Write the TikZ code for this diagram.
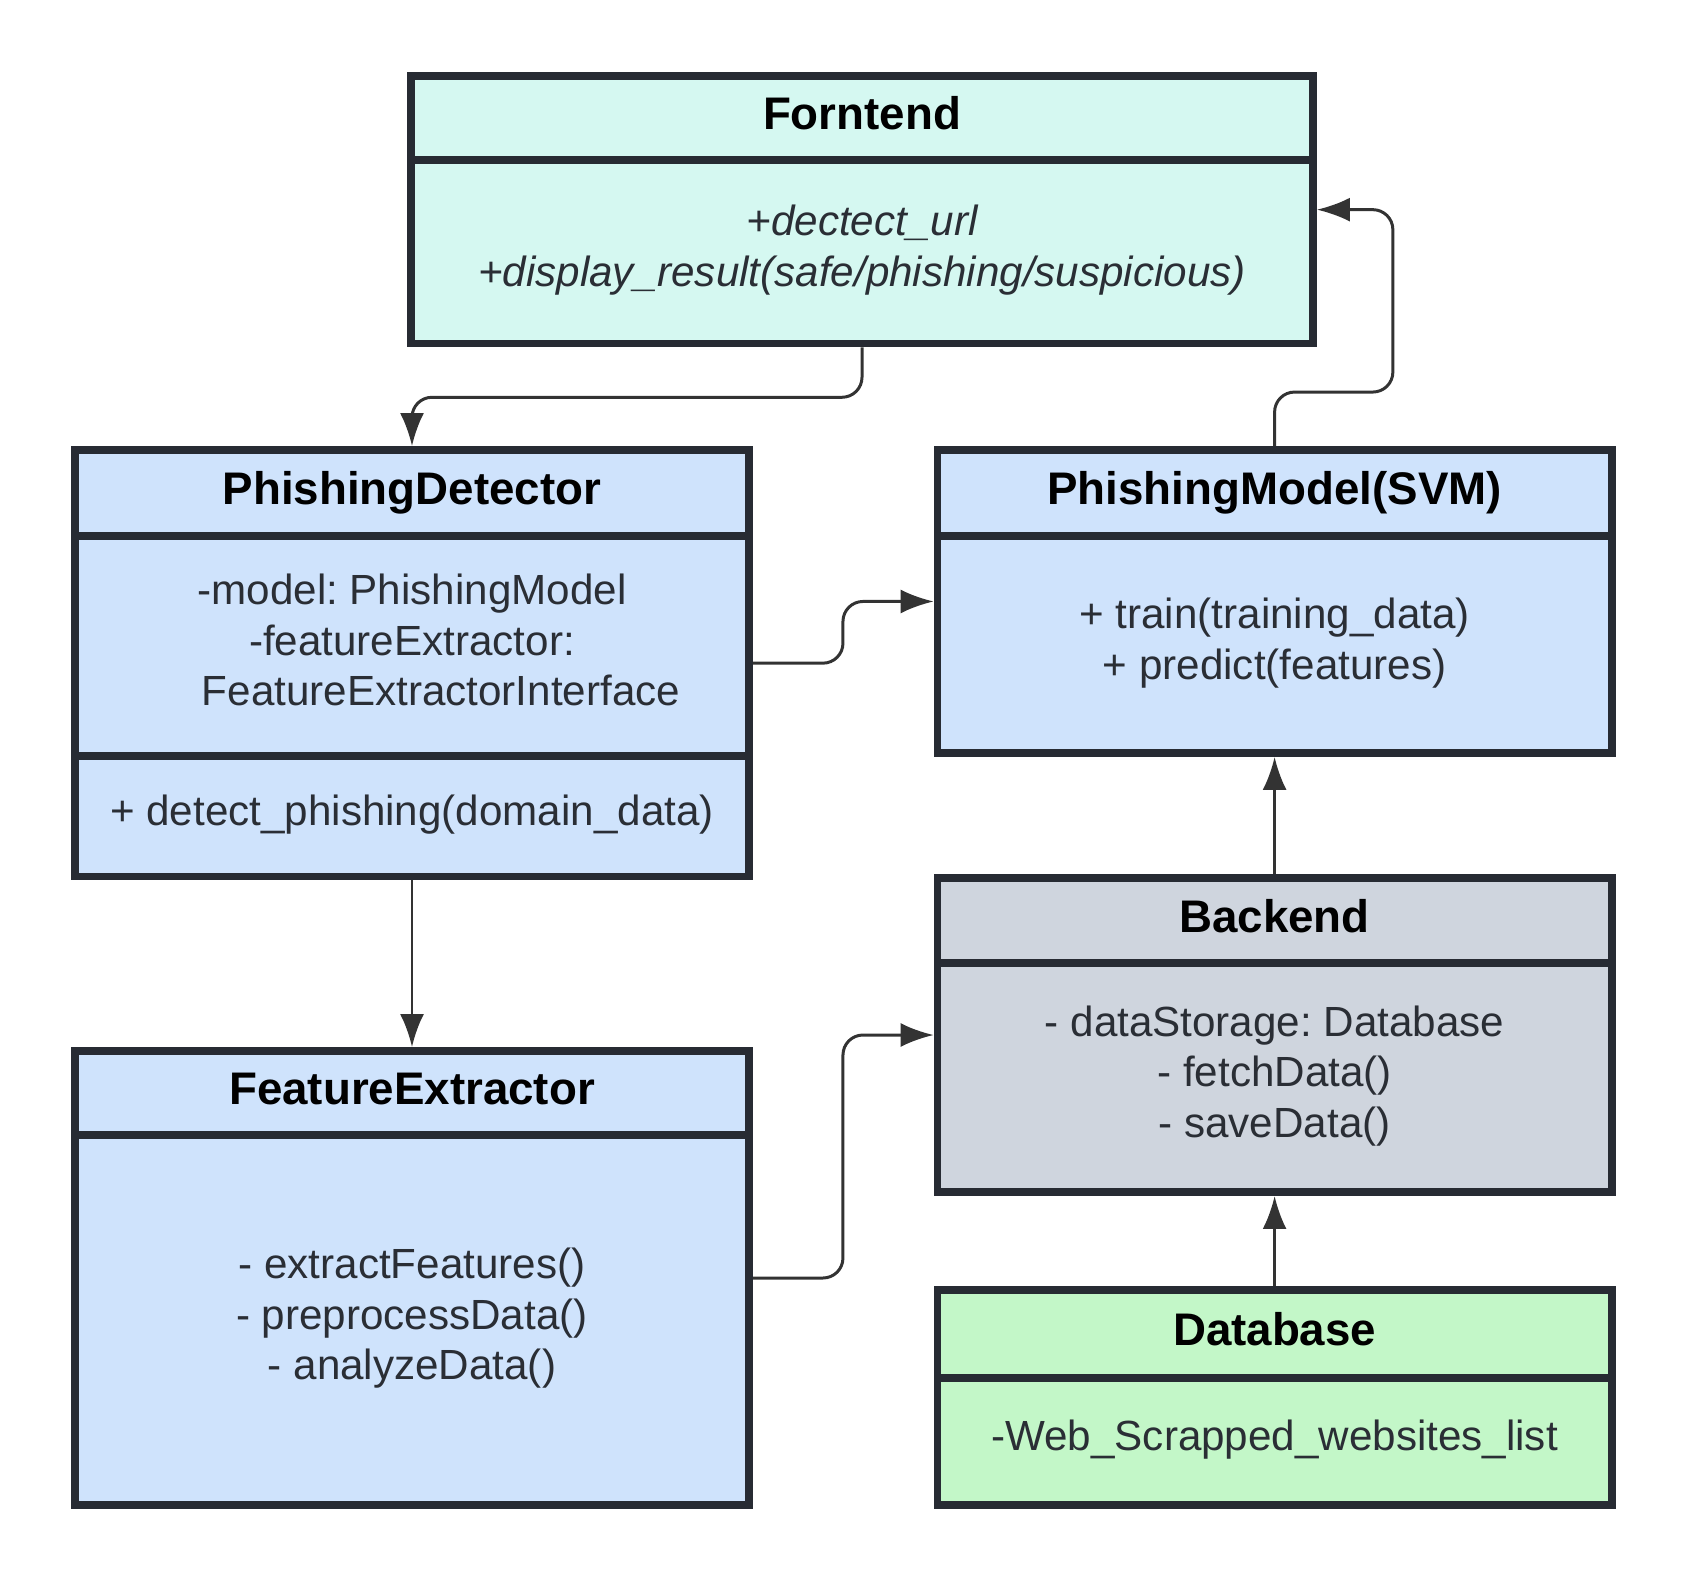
\documentclass[tikz,border=0pt]{standalone}
\usepackage{fontspec}
\setmainfont{Liberation Sans}
\frenchspacing
\usetikzlibrary{positioning,fit,arrows.meta}
\definecolor{borde}{HTML}{272B33}
\definecolor{texto}{HTML}{2A2E35}
\definecolor{menta}{HTML}{D5F8F1}
\definecolor{azul}{HTML}{CFE3FC}
\definecolor{gris}{HTML}{CFD5DE}
\definecolor{verde}{HTML}{C3F7C8}
\definecolor{flecha}{HTML}{333333}
\tikzset{
  caja/.style={draw=borde, line width=2.2pt, outer sep=0pt, inner sep=2pt, minimum width=#1, align=center, text=texto},
  titulo/.style={font=\fontsize{13}{15.6}\selectfont\bfseries, text=black, text height=0.33cm, text depth=0.09cm},
  cuerpo/.style={font=\fontsize{12}{14.4}\selectfont, text depth=0.12cm},
  cursiva/.style={font=\fontsize{12}{14.4}\selectfont\itshape, text depth=0.12cm},
  clase/.style={inner sep=0pt, outer sep=1.1pt},
  conn/.style={draw=flecha, line width=0.85pt, rounded corners=2mm, -{Latex[length=3.3mm,width=2.4mm]}},
}

\begin{document}
\begin{tikzpicture}
		\useasboundingbox (0,0) rectangle (16.88,-15.81); %margenes
		\node[caja=9.02cm, titulo, fill=menta, minimum height=0.841cm, anchor=north] (front-t) at (8.62,-0.759) {Forntend}; %clase Forntend
		\node[caja=9.02cm, cursiva, fill=menta, minimum height=1.834cm, below=0pt of front-t] (front-b) {+dectect\_url\\+display\_result(safe/phishing/suspicious)};
		\node[caja=6.742cm, titulo, fill=azul, minimum height=0.861cm, anchor=north] (pd-t) at (4.12,-4.499) {PhishingDetector}; %clase PhishingDetector
		\node[caja=6.742cm, cuerpo, fill=azul, minimum height=2.2cm, below=0pt of pd-t] (pd-a) {-model: PhishingModel\\-featureExtractor:\\\hspace*{5.8mm}FeatureExtractorInterface};
		\node[caja=6.742cm, cuerpo, fill=azul, minimum height=1.204cm, below=0pt of pd-a] (pd-m) {+ detect\_phishing(domain\_data)};
		\node[caja=6.742cm, titulo, fill=azul, minimum height=0.861cm, anchor=north] (pm-t) at (12.746,-4.499) {PhishingModel(SVM)}; %clase PhishingModel
		\node[caja=6.742cm, cuerpo, fill=azul, minimum height=2.17cm, below=0pt of pm-t] (pm-b) {+ train(training\_data)\\+ predict(features)};
		\node[caja=6.742cm, titulo, fill=gris, minimum height=0.848cm, anchor=north] (be-t) at (12.746,-8.779) {Backend}; %clase Backend
		\node[caja=6.742cm, cuerpo, fill=gris, minimum height=2.294cm, below=0pt of be-t] (be-b) {- dataStorage: Database\\- fetchData()\\- saveData()};
		\node[caja=6.742cm, titulo, fill=azul, minimum height=0.841cm, anchor=north] (fe-t) at (4.12,-10.509) {FeatureExtractor}; %clase FeatureExtractor
		\node[caja=6.742cm, cuerpo, fill=azul, minimum height=3.701cm, below=0pt of fe-t] (fe-b) {- extractFeatures()\\- preprocessData()\\- analyzeData()};
		\node[caja=6.742cm, titulo, fill=verde, minimum height=0.881cm, anchor=north] (db-t) at (12.746,-12.899) {Database}; %clase Database
		\node[caja=6.742cm, cuerpo, fill=verde, minimum height=1.271cm, below=0pt of db-t] (db-b) {-Web\_Scrapped\_websites\_list};
		\node[clase, fit=(front-t)(front-b)] (front) {}; %cajas completas
		\node[clase, fit=(pd-t)(pd-m)] (pd) {};
		\node[clase, fit=(pm-t)(pm-b)] (pm) {};
		\node[clase, fit=(be-t)(be-b)] (be) {};
		\node[clase, fit=(fe-t)(fe-b)] (fe) {};
		\node[clase, fit=(db-t)(db-b)] (db) {};
		\coordinate (ret) at ([xshift=7.6mm]front.east); %vuelta del resultado
		\draw[conn] (front.south) -- ++(0,-0.5) -| (pd.north);
		\draw[conn] (pd.east) -- ++(0.9,0) |- (pm.west);
		\draw[conn] (pm.north) -- ++(0,0.54) -| (ret) -- (front.east);
		\draw[conn] (be.north) -- (pm.south);
		\draw[conn] (pd.south) -- (fe.north);
		\draw[conn] (fe.east) -- ++(0.9,0) |- (be.west);
		\draw[conn] (db.north) -- (be.south);
\end{tikzpicture}
\end{document}
